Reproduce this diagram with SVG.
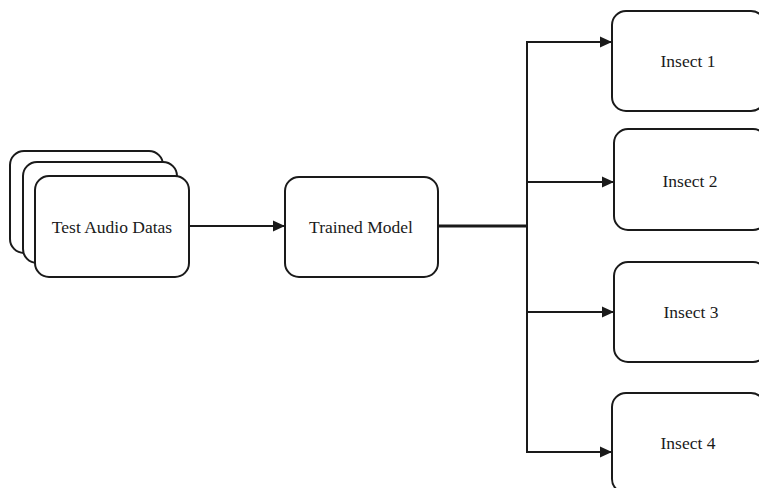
<svg xmlns="http://www.w3.org/2000/svg" width="759" height="488" viewBox="0 0 759 488">
<style>
.box{fill:#fff;stroke:#1a1a1a;stroke-width:2}
.lbl{font-family:"Liberation Serif","Times New Roman",serif;font-size:17.5px;fill:#1a1a1a;text-anchor:middle;dominant-baseline:central}
.ln{fill:none;stroke:#1a1a1a;stroke-width:2}
</style>
<defs>
<marker id="ah" viewBox="0 0 12 12" refX="12" refY="6" markerWidth="12" markerHeight="12" markerUnits="userSpaceOnUse" orient="auto">
<path d="M0,0.5 L12,6 L0,11.5 z" fill="#1a1a1a"/>
</marker>
</defs>
<rect width="759" height="488" fill="#fff"/>
<g id="connectors">
<line class="ln" x1="190" y1="226" x2="285" y2="226" marker-end="url(#ah)"/>
<line class="ln" x1="438" y1="226" x2="527" y2="226" style="stroke-width:3"/>
<line class="ln" x1="527" y1="41" x2="527" y2="453"/>
<line class="ln" x1="526" y1="42" x2="612" y2="42" marker-end="url(#ah)"/>
<line class="ln" x1="528" y1="182" x2="614" y2="182" marker-end="url(#ah)"/>
<line class="ln" x1="526" y1="312" x2="614" y2="312" marker-end="url(#ah)"/>
<line class="ln" x1="526" y1="452" x2="612" y2="452" marker-end="url(#ah)"/>
</g>
<g id="test-audio-datas">
<rect class="box" x="10" y="151" width="153" height="102" rx="14"/>
<rect class="box" x="23" y="162" width="154" height="101" rx="14"/>
<rect class="box" x="35" y="176" width="154" height="101" rx="14"/>
<text class="lbl" x="112" y="227">Test Audio Datas</text>
</g>
<g id="trained-model">
<rect class="box" x="285" y="177" width="153" height="100" rx="14"/>
<text class="lbl" x="361" y="227">Trained Model</text>
</g>
<g id="insect-1">
<rect class="box" x="612" y="11" width="153" height="100" rx="14"/>
<text class="lbl" x="688" y="61">Insect 1</text>
</g>
<g id="insect-2">
<rect class="box" x="614" y="129" width="153" height="101" rx="14"/>
<text class="lbl" x="690" y="181">Insect 2</text>
</g>
<g id="insect-3">
<rect class="box" x="614" y="262" width="153" height="100" rx="14"/>
<text class="lbl" x="691" y="312">Insect 3</text>
</g>
<g id="insect-4">
<rect class="box" x="612" y="393" width="153" height="100" rx="14"/>
<text class="lbl" x="688" y="443">Insect 4</text>
</g>
</svg>
